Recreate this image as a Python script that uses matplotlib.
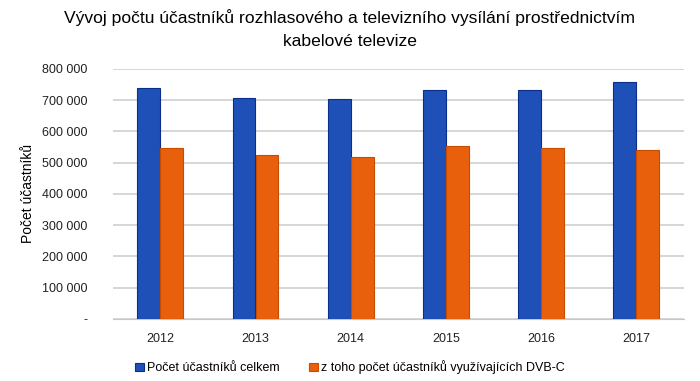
import numpy as np
import matplotlib
matplotlib.use('agg')
import matplotlib.pyplot as plt
from matplotlib.ticker import FuncFormatter

plt.rcParams['font.family'] = ['Liberation Sans', 'DejaVu Sans']

years = ['2012', '2013', '2014', '2015', '2016', '2017']
celkem = [738000, 708000, 705000, 734000, 734000, 758000]
dvbc = [548000, 524000, 517000, 555000, 548000, 540000]

fig = plt.figure(figsize=(7, 3.81), dpi=100)
ax = fig.add_axes([0.161, 0.163, 0.816, 0.656])

x = np.arange(len(years))
w = 0.24
ax.bar(x - w / 2, celkem, w, color='#1f50b8', edgecolor='#0b2d8c', linewidth=0.8,
       label='Počet účastníků celkem', zorder=3)
ax.bar(x + w / 2, dvbc, w, color='#e8600c', edgecolor='#c84c00', linewidth=0.8,
       label='z toho počet účastníků využívajících DVB-C', zorder=3)

ax.set_xlim(-0.5, len(years) - 0.5)
ax.set_ylim(0, 800000)
ax.set_yticks(np.arange(0, 800001, 100000))
ax.yaxis.set_major_formatter(FuncFormatter(
    lambda v, p: '-' if v == 0 else f'{int(v):,}'.replace(',', ' ')))
ax.set_xticks(x)
ax.set_xticklabels(years)
ax.grid(axis='y', color='#d0d0d0', linewidth=1.2, zorder=0)
for s in ['top', 'right', 'left']:
    ax.spines[s].set_visible(False)
ax.spines['bottom'].set_color('#c8c8c8')
ax.tick_params(axis='y', length=0, labelsize=9, colors='#222222', pad=18)
ax.tick_params(axis='x', length=0, labelsize=9, colors='#222222', pad=10)

ax.set_ylabel('Počet účastníků', fontsize=10, labelpad=5)
fig.suptitle('Vývoj počtu účastníků rozhlasového a televizního vysílání prostřednictvím\nkabelové televize',
             fontsize=12.6, y=0.975, linespacing=1.6)

fig.legend(loc='lower center', bbox_to_anchor=(0.5, -0.012), ncol=2, frameon=False,
           fontsize=9, handlelength=0.7, handleheight=0.7, handletextpad=0.3,
           columnspacing=2.3)

fig.savefig('out.png', dpi=100)
